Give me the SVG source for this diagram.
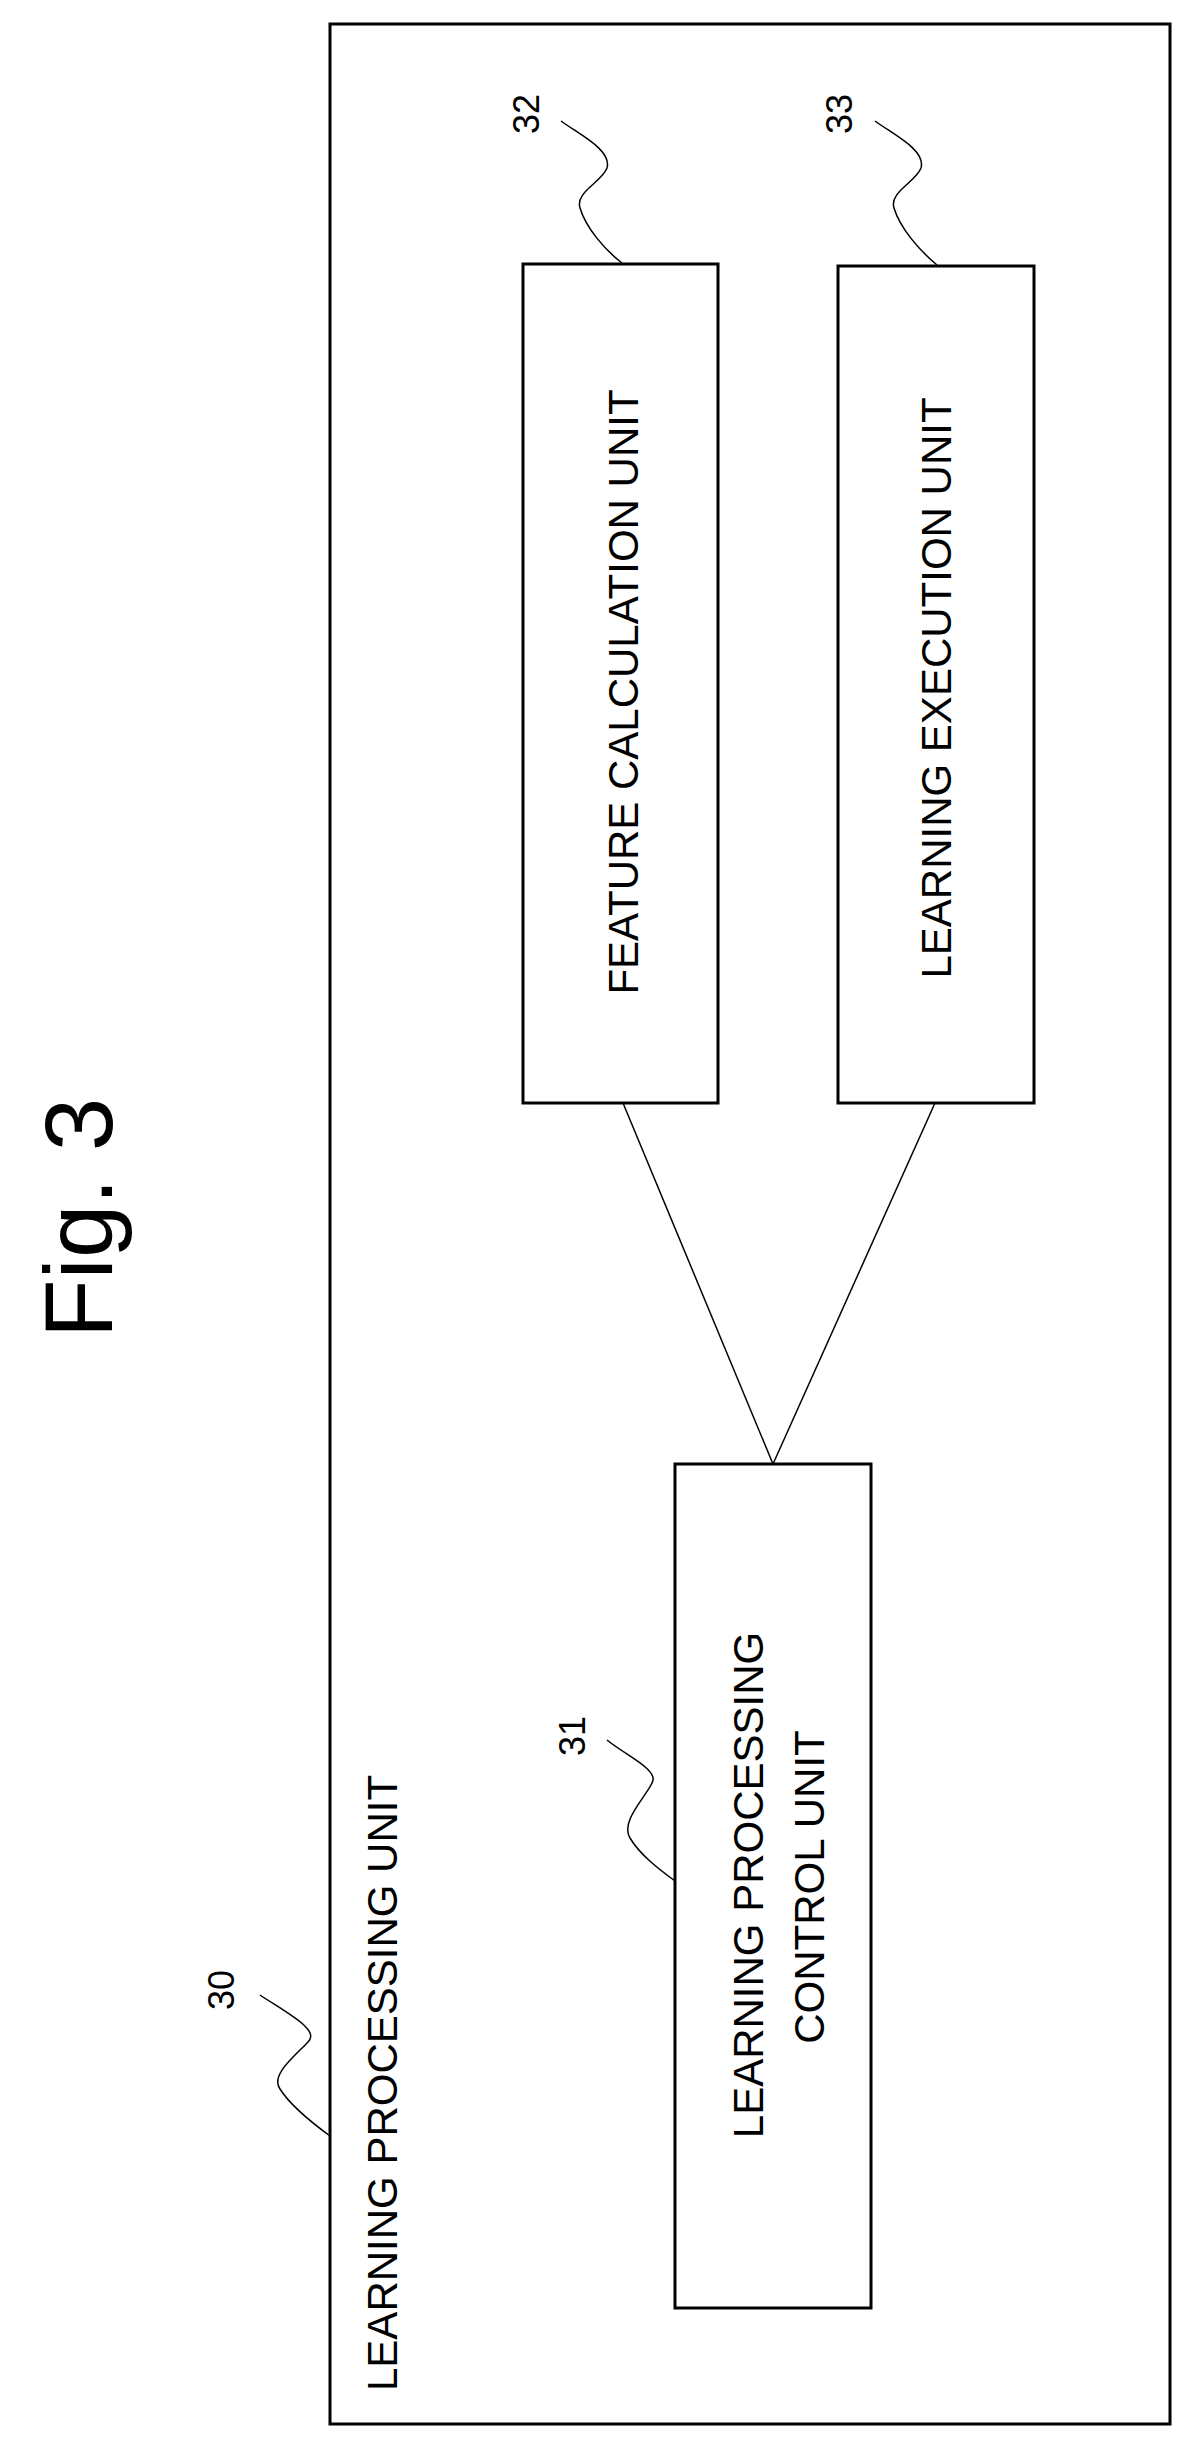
<svg xmlns="http://www.w3.org/2000/svg" width="1195" height="2446" viewBox="0 0 1195 2446">
<style>
.b{fill:none;stroke:#000;stroke-width:3}
.l{fill:none;stroke:#000;stroke-width:1.5}
.t{font-family:"Liberation Sans",Arial,sans-serif;font-size:42px;fill:#000}
.n{font-family:"Liberation Sans",Arial,sans-serif;font-size:36px;fill:#000}
</style>
<rect width="1195" height="2446" fill="#fff"/>
<text class="t" style="font-size:96px" text-anchor="middle" transform="translate(112,1218) rotate(-90)">Fig. 3</text>
<g id="n30">
<rect class="b" x="330" y="24" width="840" height="2400"/>
<text class="t" transform="translate(397,2391) rotate(-90)">LEARNING PROCESSING UNIT</text>
<text class="n" text-anchor="middle" transform="translate(234,1990) rotate(-90)">30</text>
<path class="l" d="M260,1995 C290,2015 320,2030 308,2042 C295,2056 270,2075 280,2089 C290,2105 315,2125 330,2136"/>
</g>
<g id="n31">
<rect class="b" x="675" y="1464" width="196" height="844"/>
<text class="t" text-anchor="middle" transform="translate(763,1885) rotate(-90)">LEARNING PROCESSING</text>
<text class="t" text-anchor="middle" transform="translate(824,1887) rotate(-90)">CONTROL UNIT</text>
<text class="n" text-anchor="middle" transform="translate(585,1736) rotate(-90)">31</text>
<path class="l" d="M607,1740 C625,1755 660,1770 652,1783 C645,1798 620,1822 630,1838 C640,1855 660,1870 675,1881"/>
</g>
<g id="n32">
<rect class="b" x="523" y="264" width="195" height="839"/>
<text class="t" text-anchor="middle" transform="translate(638,692) rotate(-90)">FEATURE CALCULATION UNIT</text>
<text class="n" text-anchor="middle" transform="translate(539,114) rotate(-90)">32</text>
<path class="l" d="M561,121 C580,135 612,150 607,168 C602,182 575,192 580,208 C586,228 605,250 622,263"/>
</g>
<g id="n33">
<rect class="b" x="838" y="266" width="196" height="837"/>
<text class="t" text-anchor="middle" transform="translate(951,688) rotate(-90)">LEARNING EXECUTION UNIT</text>
<text class="n" text-anchor="middle" transform="translate(852,114) rotate(-90)">33</text>
<path class="l" d="M875,121 C894,135 926,150 921,168 C916,182 889,192 894,208 C900,228 919,250 937,265"/>
</g>
<g id="connectors">
<line class="l" x1="623" y1="1103" x2="773" y2="1464"/>
<line class="l" x1="935" y1="1103" x2="773" y2="1464"/>
</g>
</svg>
